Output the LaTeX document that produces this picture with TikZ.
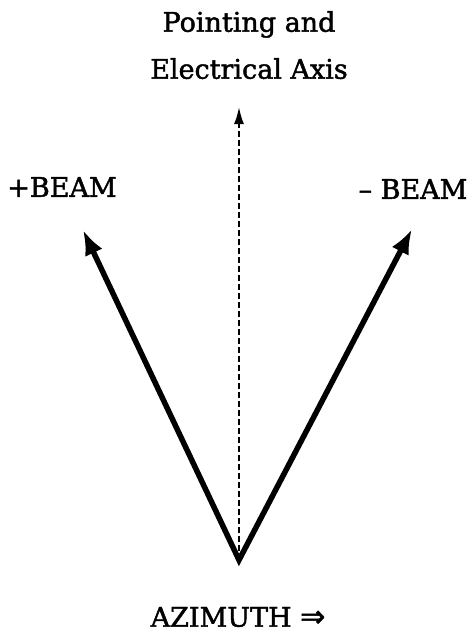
\documentclass[tikz,border=0pt]{standalone}
\usepackage{fontspec}
\setmainfont{DejaVu Serif}[FakeBold=1.6]
\newfontfamily\arrowfont{DejaVu Sans}[FakeBold=1.6]
\usetikzlibrary{arrows.meta}

\begin{document}
\begin{tikzpicture}[x=1pt,y=-1pt,lbl/.style={inner sep=0pt,align=center,font=\fontsize{27}{47}\selectfont},beam/.style={line width=5.5pt,line join=miter,{Latex[length=25pt,width=19pt]}-{Latex[length=25pt,width=19pt]}},axis/.style={line width=2pt,dash pattern=on 6pt off 3pt,-{Latex[length=17pt,width=10pt]}}]
\useasboundingbox (0,0) rectangle (475,634);
\node[lbl,anchor=north] (title) at (249,11) {Pointing and\\Electrical Axis};
\node[lbl] (plus) at (62,187) {+BEAM};
\node[lbl] (minus) at (413,189) {– BEAM};
\node[lbl] (az) at (238,617) {AZIMUTH {\arrowfont\fontsize{30}{30}\selectfont ⇒}};
\coordinate (o) at (239,560);
\coordinate (pt) at (83,230);
\coordinate (mt) at (412,229);
\coordinate (at) at (239,107);
\draw[axis] (o)--(at);
\draw[beam] (pt)--(o)--(mt);
\end{tikzpicture}
\end{document}
